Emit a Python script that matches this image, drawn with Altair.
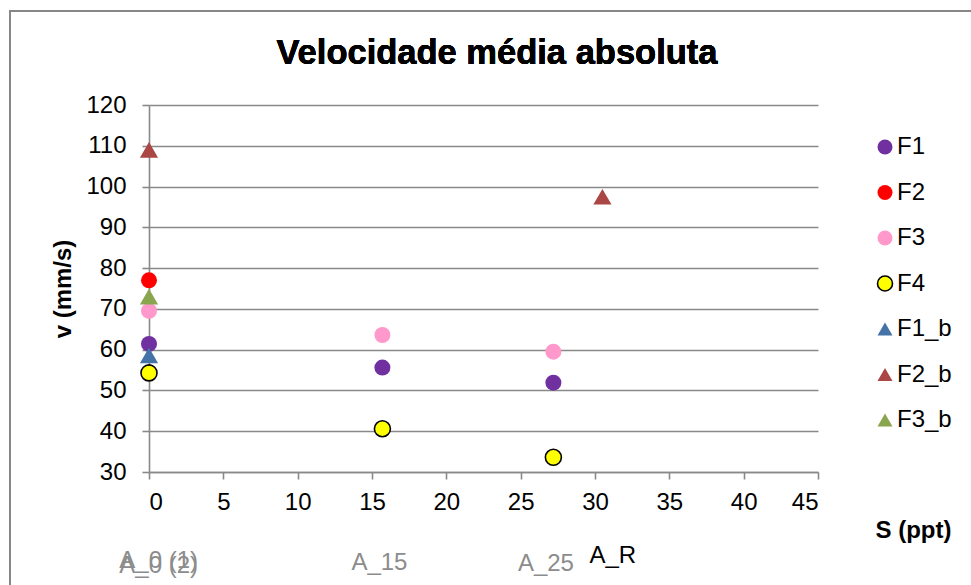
import altair as alt
import pandas as pd

# Series (legend order) and their styling
series = ["F1", "F2", "F3", "F4", "F1_b", "F2_b", "F3_b"]
fills = ["#7030A0", "#FF0000", "#FF99CC", "#FFFF00", "#4572A7", "#AA4643", "#89A54E"]
strokes = ["transparent", "transparent", "transparent", "#000000", "transparent", "transparent", "transparent"]
shapes = ["circle", "circle", "circle", "circle", "triangle-up", "triangle-up", "triangle-up"]

# Salinity S (ppt) and mean absolute velocity v (mm/s) per series
s_f1 = [0, 15.7, 27.2]
v_f1 = [61.4, 55.6, 51.9]
s_f2 = [0]
v_f2 = [77.0]
s_f3 = [0, 15.7, 27.2]
v_f3 = [69.5, 63.6, 59.5]
s_f4 = [0, 15.7, 27.2]
v_f4 = [54.3, 40.6, 33.6]
s_f1b = [0]
v_f1b = [58.6]
s_f2b = [0, 30.5]
v_f2b = [109.0, 97.5]
s_f3b = [0]
v_f3b = [73.0]

# Point labels shown under the axis
label_text = ["A_0 (1)", "A_0 (2)", "A_15", "A_25", "A_R"]
label_s = [0.65, 0.65, 15.5, 26.7, 31.2]
label_dark = [False, False, False, False, True]
label_py = [456, 461, 458, 459, 451]

rows = []
for name, xs, vs in [
    ("F1", s_f1, v_f1), ("F2", s_f2, v_f2), ("F3", s_f3, v_f3), ("F4", s_f4, v_f4),
    ("F1_b", s_f1b, v_f1b), ("F2_b", s_f2b, v_f2b), ("F3_b", s_f3b, v_f3b),
]:
    for x, v in zip(xs, vs):
        rows.append({"serie": name, "S": x, "v": v, "ordem": series.index(name)})
df = pd.DataFrame(rows)

labels = pd.DataFrame({"txt": label_text, "S": label_s, "escuro": label_dark, "py": label_py})

FONT = "Liberation Sans"
GRID = "#898989"

x_scale = alt.Scale(domain=[0, 45], nice=False, zero=False)
y_scale = alt.Scale(domain=[30, 120], nice=False, zero=False)

points = alt.Chart(df).mark_point(filled=True, opacity=1, strokeWidth=1.6).encode(
    x=alt.X("S:Q", scale=x_scale, axis=alt.Axis(
        values=list(range(0, 50, 5)), grid=False, title="S (ppt)",
        titleX=764, titleY=58, titleAlign="center", titleBaseline="middle",
        labelPadding=11, tickSize=7)),
    y=alt.Y("v:Q", scale=y_scale, axis=alt.Axis(
        values=list(range(30, 130, 10)), grid=True, title="v (mm/s)",
        titleX=-86, titleY=183.5, titleAngle=270, titleAlign="center",
        titleBaseline="middle", labelPadding=16, tickSize=7)),
    color=alt.Color("serie:N", scale=alt.Scale(domain=series, range=fills),
                    sort=series, title=None),
    shape=alt.Shape("serie:N", scale=alt.Scale(domain=series, range=shapes),
                    sort=series, title=None),
    stroke=alt.Stroke("serie:N", scale=alt.Scale(domain=series, range=strokes),
                      sort=series, title=None),
    size=alt.condition("datum.ordem >= 4", alt.value(330), alt.value(256)),
    order="ordem:Q",
)

texts = alt.Chart(labels).mark_text(fontSize=24, font=FONT, align="center", baseline="middle").encode(
    x=alt.X("S:Q", scale=x_scale),
    y=alt.Y("py:Q", scale=None),
    text="txt:N",
    color=alt.condition("datum.escuro", alt.value("#000000"), alt.value("#8C8C8C")),
)

title = alt.Chart(labels).mark_text(
    text="Velocidade média absoluta", font=FONT, fontSize=34.5, fontWeight="bold",
    color="#000000", align="center", baseline="middle",
).encode(x=alt.value(348), y=alt.value(-51))

frame = alt.Chart(labels).mark_rect(fill=None, stroke="#878787", strokeWidth=2).encode(
    x=alt.value(-139), x2=alt.value(900), y=alt.value(-94), y2=alt.value(600)
)

chart = alt.layer(frame, points, texts, title).properties(
    width=669, height=367,
    padding={"left": 149, "top": 105, "right": 153, "bottom": 113},
    autosize=alt.AutoSizeParams(type="none"),
).configure_view(stroke=None).configure_axis(
    labelFont=FONT, titleFont=FONT, labelFontSize=24, titleFontSize=24,
    titleFontWeight="bold", labelColor="#000000", titleColor="#000000",
    domainColor=GRID, tickColor=GRID, gridColor=GRID, domainWidth=1.6,
    tickWidth=1.6, gridWidth=1.6,
).configure_legend(
    orient="none", legendX=724, legendY=30, labelFont=FONT, labelFontSize=24,
    labelColor="#000000", rowPadding=21.5, symbolSize=225, labelOffset=0,
    symbolStrokeWidth=1.6,
)

chart.save("out.html", embed_options={"renderer": "svg", "actions": False})
